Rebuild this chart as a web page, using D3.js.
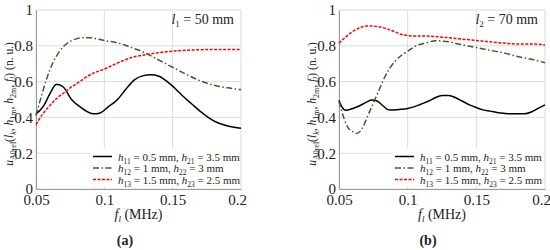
<!DOCTYPE html>
<html lang="en">
<head>
    <meta charset="UTF-8">
    <title>Normalized amplitude vs frequency</title>
    <script src="https://d3js.org/d3.v7.min.js"></script>
    <style>
        body { margin: 0; background: #fff; }
    </style>
</head>
<body>
<div id="chart"></div>
<script>
    // ---- data ----
    const xTicks = [0.05, 0.1, 0.15, 0.2];
    const yTicks = [0, 0.2, 0.4, 0.6, 0.8, 1];

    // panel (a), l1 = 50 mm
    const aBlackF = [0.05, 0.053, 0.056, 0.06, 0.065, 0.07, 0.076, 0.082, 0.088, 0.092, 0.097, 0.103, 0.109, 0.116, 0.122, 0.128, 0.134, 0.14, 0.146, 0.152, 0.158, 0.164, 0.17, 0.177, 0.183, 0.189, 0.195, 0.2];
    const aBlackV = [0.42, 0.44, 0.47, 0.53, 0.585, 0.57, 0.5, 0.46, 0.43, 0.42, 0.425, 0.46, 0.495, 0.56, 0.61, 0.632, 0.638, 0.63, 0.6, 0.56, 0.515, 0.475, 0.435, 0.395, 0.37, 0.355, 0.345, 0.34];
    const aGreenF = [0.05, 0.054, 0.058, 0.062, 0.066, 0.07, 0.075, 0.08, 0.085, 0.09, 0.095, 0.1, 0.11, 0.12, 0.13, 0.14, 0.15, 0.16, 0.17, 0.18, 0.19, 0.2];
    const aGreenV = [0.41, 0.52, 0.62, 0.7, 0.755, 0.795, 0.825, 0.84, 0.845, 0.845, 0.838, 0.83, 0.815, 0.79, 0.76, 0.72, 0.68, 0.64, 0.605, 0.58, 0.565, 0.555];
    const aRedF = [0.05, 0.055, 0.06, 0.065, 0.07, 0.075, 0.08, 0.09, 0.1, 0.11, 0.12, 0.13, 0.14, 0.15, 0.16, 0.17, 0.18, 0.19, 0.2];
    const aRedV = [0.36, 0.42, 0.465, 0.505, 0.535, 0.565, 0.59, 0.64, 0.67, 0.705, 0.735, 0.75, 0.762, 0.77, 0.775, 0.778, 0.78, 0.78, 0.78];

    // panel (b), l2 = 70 mm
    const bBlackF = [0.05, 0.052, 0.055, 0.06, 0.065, 0.07, 0.074, 0.078, 0.082, 0.086, 0.09, 0.095, 0.1, 0.105, 0.11, 0.115, 0.12, 0.125, 0.13, 0.135, 0.14, 0.145, 0.15, 0.155, 0.16, 0.165, 0.17, 0.175, 0.18, 0.185, 0.19, 0.195, 0.2];
    const bBlackV = [0.495, 0.46, 0.44, 0.45, 0.465, 0.485, 0.497, 0.49, 0.465, 0.443, 0.442, 0.445, 0.45, 0.46, 0.475, 0.49, 0.51, 0.522, 0.522, 0.51, 0.49, 0.47, 0.455, 0.442, 0.435, 0.428, 0.423, 0.42, 0.42, 0.42, 0.43, 0.45, 0.47];
    const bGreenF = [0.05, 0.053, 0.056, 0.06, 0.063, 0.067, 0.071, 0.075, 0.079, 0.083, 0.087, 0.091, 0.096, 0.1, 0.105, 0.11, 0.115, 0.12, 0.13, 0.14, 0.15, 0.16, 0.17, 0.18, 0.19, 0.2];
    const bGreenV = [0.49, 0.41, 0.35, 0.32, 0.31, 0.34, 0.41, 0.48, 0.55, 0.62, 0.675, 0.715, 0.75, 0.77, 0.795, 0.81, 0.82, 0.828, 0.822, 0.805, 0.79, 0.775, 0.76, 0.74, 0.725, 0.705];
    const bRedF = [0.05, 0.055, 0.06, 0.065, 0.07, 0.075, 0.08, 0.085, 0.09, 0.095, 0.1, 0.105, 0.11, 0.12, 0.13, 0.14, 0.15, 0.16, 0.17, 0.18, 0.19, 0.2];
    const bRedV = [0.815, 0.85, 0.88, 0.9, 0.91, 0.91, 0.905, 0.895, 0.88, 0.865, 0.857, 0.855, 0.855, 0.852, 0.845, 0.837, 0.83, 0.822, 0.815, 0.81, 0.81, 0.805];

    const legendRows = [
        {a: ["11", "0.5"], b: ["21", "3.5"]},
        {a: ["12", "1"], b: ["22", "3"]},
        {a: ["13", "1.5"], b: ["23", "2.5"]}
    ];
    const styles = [
        {color: "#000000", dash: null},
        {color: "#3b5e2b", dash: "6,2.5,1.5,2.5"},
        {color: "#ff0000", dash: "3,1.5"}
    ];

    const W = 550, H = 250;
    const SERIF = "Liberation Serif";
    const svg = d3.select("#chart").append("svg")
        .attr("width", W).attr("height", H)
        .attr("font-family", SERIF);

    // writes text runs with optional subscripts into a text element; subscripts drop by 3px
    function richText(el, runs, subSize) {
        let down = false;
        runs.forEach(r => {
            const main = el.append("tspan").text(r.t);
            if (down) { main.attr("dy", -3); down = false; }
            if (r.it) main.attr("font-style", "italic");
            if (r.sub) {
                el.append("tspan").attr("dy", 3).attr("font-size", subSize)
                    .attr("font-style", r.subIt ? "italic" : "normal").text(r.sub);
                down = true;
            }
        });
    }

    function drawPanel(opt) {
        const x = d3.scaleLinear().domain([0.05, 0.2]).range([opt.left, opt.right]);
        const y = d3.scaleLinear().domain([0, 1]).range([189, 10]);
        const g = svg.append("g").attr("font-family", SERIF).attr("fill", "#222");

        // grid
        g.selectAll(".gx").data(xTicks).join("line")
            .attr("x1", d => x(d)).attr("x2", d => x(d))
            .attr("y1", y(0)).attr("y2", y(1))
            .attr("stroke", "#dcdcdc").attr("stroke-width", 1);
        g.selectAll(".gy").data(yTicks).join("line")
            .attr("x1", x(0.05)).attr("x2", x(0.2))
            .attr("y1", d => y(d)).attr("y2", d => y(d))
            .attr("stroke", "#dcdcdc").attr("stroke-width", 1);

        // axes
        const ax = g.append("g").attr("transform", `translate(0,${y(0)})`)
            .call(d3.axisBottom(x).tickValues(xTicks).tickSize(0).tickPadding(5).tickFormat(d3.format("")));
        const ay = g.append("g").attr("transform", `translate(${x(0.05)},0)`)
            .call(d3.axisLeft(y).tickValues(yTicks).tickSize(0).tickPadding(3).tickFormat(d3.format("")));
        [ax, ay].forEach(a => {
            a.attr("font-family", SERIF).attr("font-size", 15);
            a.select(".domain").attr("stroke", "#9a9a9a");
            a.selectAll("text").attr("fill", "#222");
        });
        // last x label sits a little left of its tick, as in the original
        ax.selectAll("text").filter(d => d === 0.2).attr("dx", -4);

        // curves
        const line = d3.line().x(d => x(d[0])).y(d => y(d[1])).curve(d3.curveMonotoneX);
        opt.series.forEach((s, i) => {
            g.append("path")
                .datum(d3.zip(s[0], s[1]))
                .attr("d", line)
                .attr("fill", "none")
                .attr("stroke", styles[i].color)
                .attr("stroke-width", 1.5)
                .attr("stroke-dasharray", styles[i].dash);
        });

        // panel label (top right)
        const lab = g.append("text").attr("x", x(0.2) - 7).attr("y", 24)
            .attr("text-anchor", "end").attr("font-size", 14);
        richText(lab, [{t: "l", it: true, sub: opt.k}, {t: " = " + opt.len + " mm"}], 9);

        // legend
        const leg = g.append("g");
        leg.append("rect").attr("x", opt.legX - 3).attr("y", 149)
            .attr("width", x(0.2) - opt.legX + 1).attr("height", 37).attr("fill", "#fff");
        legendRows.forEach((r, i) => {
            const yy = 156.5 + i * 11.5;
            leg.append("line").attr("x1", opt.legX).attr("x2", opt.legX + 19)
                .attr("y1", yy).attr("y2", yy)
                .attr("stroke", styles[i].color).attr("stroke-width", 1.5)
                .attr("stroke-dasharray", styles[i].dash);
            const t = leg.append("text").attr("x", opt.legX + 25).attr("y", yy + 4)
                .attr("font-size", 11);
            richText(t, [
                {t: "h", it: true, sub: r.a[0]},
                {t: " = " + r.a[1] + " mm, "},
                {t: "h", it: true, sub: r.b[0]},
                {t: " = " + r.b[1] + " mm"}
            ], 7.5);
        });

        // x title
        const xt = g.append("text").attr("x", (x(0.05) + x(0.2)) / 2).attr("y", 219)
            .attr("text-anchor", "middle").attr("font-size", 14);
        richText(xt, [{t: "f", it: true, sub: "l", subIt: true}, {t: " (MHz)"}], 9);

        // y title
        const yt = g.append("text")
            .attr("transform", `translate(${opt.yLabX},104) rotate(-90)`)
            .attr("text-anchor", "middle").attr("font-size", 11.5);
        richText(yt, [
            {t: "u", it: true, sub: "A0rel"},
            {t: "("},
            {t: "l", it: true, sub: "k", subIt: true},
            {t: ", "},
            {t: "h", it: true, sub: "1m"},
            {t: ", "},
            {t: "h", it: true, sub: "2m"},
            {t: ", "},
            {t: "f", it: true, sub: "l", subIt: true},
            {t: ") (n. u.)"}
        ], 8);

        // sub-figure caption
        g.append("text").attr("x", opt.capX).attr("y", 245)
            .attr("text-anchor", "middle").attr("font-size", 14).attr("font-weight", "bold")
            .text(opt.cap);
    }

    drawPanel({left: 36, right: 241, k: "1", len: 50, legX: 93, yLabX: 13, capX: 125, cap: "(a)",
        series: [[aBlackF, aBlackV], [aGreenF, aGreenV], [aRedF, aRedV]]});
    drawPanel({left: 339, right: 545, k: "2", len: 70, legX: 395, yLabX: 316, capX: 428, cap: "(b)",
        series: [[bBlackF, bBlackV], [bGreenF, bGreenV], [bRedF, bRedV]]});
</script>
</body>
</html>
